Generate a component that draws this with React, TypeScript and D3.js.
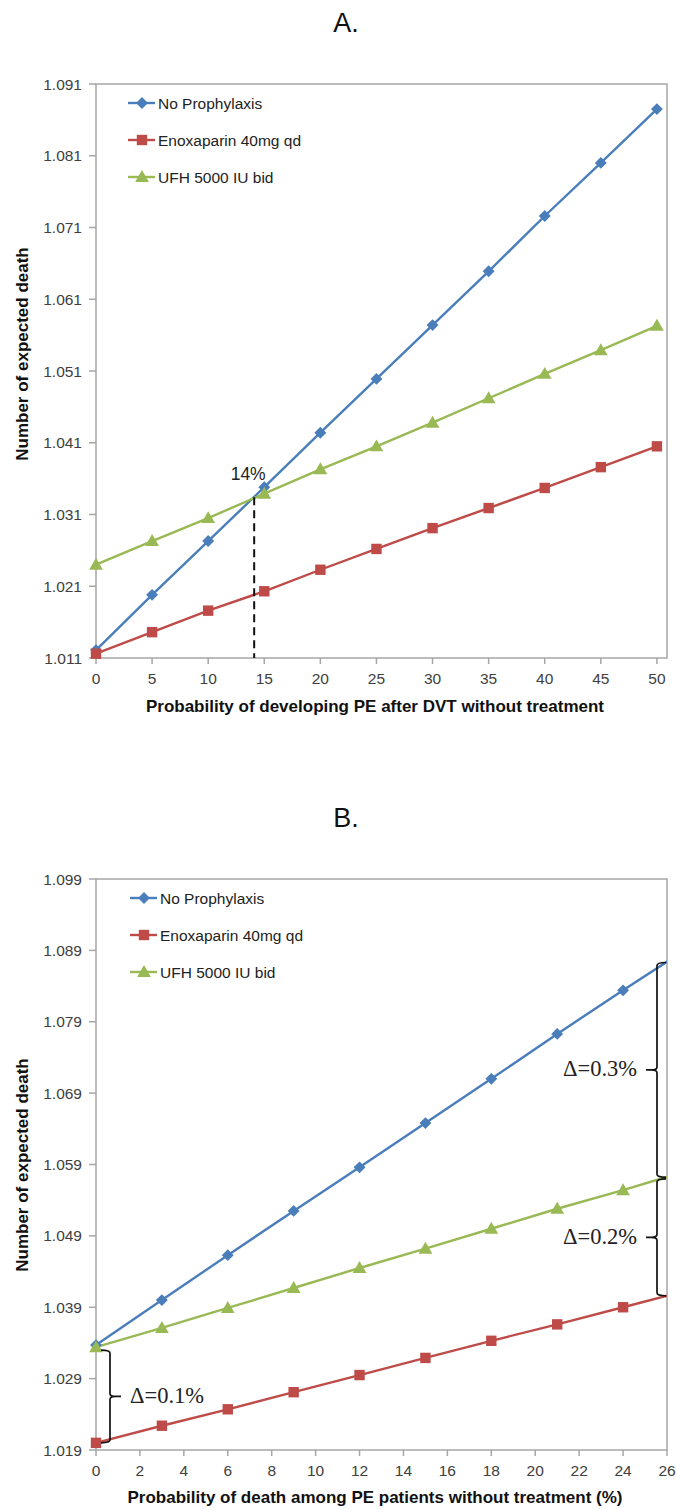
import React from 'react';
import * as d3 from 'd3';

// ---- data ----
const seriesNames = ['No Prophylaxis', 'Enoxaparin 40mg qd', 'UFH 5000 IU bid'];
const seriesColors = ['#4a7ebb', '#be4b48', '#98b954'];
const markerTypes = ['diamond', 'square', 'triangle'];

// panel A
const xA = [0, 5, 10, 15, 20, 25, 30, 35, 40, 45, 50];
const noProphA = [1.0121, 1.0198, 1.0273, 1.0348, 1.0424, 1.0499, 1.0574, 1.0649, 1.0726, 1.0800, 1.0875];
const enoxA = [1.0116, 1.0146, 1.0176, 1.0203, 1.0233, 1.0262, 1.0291, 1.0319, 1.0347, 1.0376, 1.0405];
const ufhA = [1.0240, 1.0273, 1.0305, 1.0339, 1.0373, 1.0405, 1.0438, 1.0472, 1.0506, 1.0539, 1.0573];
const xTicksA = [0, 5, 10, 15, 20, 25, 30, 35, 40, 45, 50];
const yTicksA = [1.011, 1.021, 1.031, 1.041, 1.051, 1.061, 1.071, 1.081, 1.091];
const crossA = { x: 14.1, y: 1.0334, label: '14%' };

// panel B
const xB = [0, 3, 6, 9, 12, 15, 18, 21, 24, 27];
const noProphB = [1.0337, 1.0400, 1.0463, 1.0525, 1.0586, 1.0648, 1.0710, 1.0773, 1.0834, 1.0894];
const enoxB = [1.0200, 1.0224, 1.0247, 1.0271, 1.0295, 1.0319, 1.0343, 1.0366, 1.0390, 1.0414];
const ufhB = [1.0334, 1.0361, 1.0389, 1.0417, 1.0445, 1.0472, 1.0500, 1.0528, 1.0554, 1.0582];
const xTicksB = [0, 2, 4, 6, 8, 10, 12, 14, 16, 18, 20, 22, 24, 26];
const yTicksB = [1.019, 1.029, 1.039, 1.049, 1.059, 1.069, 1.079, 1.089, 1.099];
const bracesB = [
  { x: 26, from: 1.0873, to: 1.0572, label: 'Δ=0.3%', side: 'right' },
  { x: 26, from: 1.0570, to: 1.0406, label: 'Δ=0.2%', side: 'right' },
  { x: 0, from: 1.0330, to: 1.0200, label: 'Δ=0.1%', side: 'left' },
];

const W = 676;
const H = 1509;
const FONT = 'Liberation Sans, Arial, sans-serif';
const SERIF = 'Liberation Serif, Times New Roman, serif';
const AXIS = '#a6a6a6';
const TXT = '#404040';

function Marker({ type, x, y, color }) {
  if (type === 'diamond') {
    return <rect x={x - 4.2} y={y - 4.2} width={8.4} height={8.4} fill={color} transform={`rotate(45 ${x} ${y})`} />;
  }
  if (type === 'square') {
    return <rect x={x - 5.2} y={y - 5.2} width={10.4} height={10.4} fill={color} />;
  }
  const p = d3.symbol().type(d3.symbolTriangle).size(82)();
  return <path d={p} transform={`translate(${x},${y + 1})`} fill={color} />;
}

function bracePath(x, y1, y2, side) {
  // side 'right': tips point right, nub points left
  const d = side === 'right' ? 1 : -1;
  const tip = 9 * d;
  const nub = -11 * d;
  const ym = (y1 + y2) / 2;
  return [
    `M${x + tip},${y1}`,
    `Q${x},${y1} ${x},${y1 + 3}`,
    `L${x},${ym - 3}`,
    `Q${x},${ym} ${x + nub * 0.5},${ym}`,
    `L${x + nub},${ym}`,
    `M${x + nub * 0.5},${ym}`,
    `Q${x},${ym} ${x},${ym + 3}`,
    `L${x},${y2 - 3}`,
    `Q${x},${y2} ${x + tip},${y2}`,
  ].join(' ');
}

function Panel({ top, bottom, title, xs, series, xDomain, yTicks, xTicks, xLabel, xLabelY, yLabelY, clipId, children, legendX }) {
  const left = 96;
  const right = 667;
  const x = d3.scaleLinear().domain(xDomain).range([left, right]);
  const y = d3.scaleLinear().domain([yTicks[0], yTicks[yTicks.length - 1]]).range([bottom, top]);
  const line = d3.line().x((d) => x(d[0])).y((d) => y(d[1]));
  return (
    <g>
      <text x={346} y={top - 52} textAnchor="middle" fontFamily={FONT} fontSize={27} fill="#111">{title}</text>
      <defs>
        <clipPath id={clipId}>
          <rect x={left - 9} y={top - 9} width={right - left + 9} height={bottom - top + 18} />
        </clipPath>
      </defs>
      {/* plot border */}
      <rect x={left} y={top} width={right - left} height={bottom - top} fill="none" stroke={AXIS} strokeWidth={1.5} />
      {/* y ticks */}
      {yTicks.map((t) => (
        <g key={t}>
          <line x1={left - 7} x2={left} y1={y(t)} y2={y(t)} stroke={AXIS} strokeWidth={1.5} />
          <text x={left - 14} y={y(t) + 5.5} textAnchor="end" fontFamily={FONT} fontSize={15.5} fill={TXT}>{t.toFixed(3)}</text>
        </g>
      ))}
      {/* x ticks */}
      {xTicks.map((t) => (
        <g key={t}>
          <line x1={x(t)} x2={x(t)} y1={bottom} y2={bottom + 6} stroke={AXIS} strokeWidth={1.5} />
          <text x={x(t)} y={bottom + 26} textAnchor="middle" fontFamily={FONT} fontSize={15.5} fill={TXT}>{t}</text>
        </g>
      ))}
      <text x={375} y={xLabelY} textAnchor="middle" fontFamily={FONT} fontSize={17} fontWeight="bold" fill="#111">{xLabel}</text>
      <text transform={`translate(28,${yLabelY}) rotate(-90)`} textAnchor="middle" fontFamily={FONT} fontSize={17} fontWeight="bold" fill="#111">
        Number of expected death
      </text>
      {/* series */}
      <g clipPath={`url(#${clipId})`}>
        {series.map((vals, i) => (
          <path key={i} d={line(xs.map((v, j) => [v, vals[j]]))} fill="none" stroke={seriesColors[i]} strokeWidth={2.4} />
        ))}
        {series.map((vals, i) =>
          xs.map((v, j) => <Marker key={`${i}-${j}`} type={markerTypes[i]} x={x(v)} y={y(vals[j])} color={seriesColors[i]} />)
        )}
      </g>
      {/* legend */}
      {seriesNames.map((n, i) => {
        const ly = top + 19 + i * 37;
        return (
          <g key={n}>
            <line x1={legendX} x2={legendX + 27} y1={ly} y2={ly} stroke={seriesColors[i]} strokeWidth={2.4} />
            <Marker type={markerTypes[i]} x={legendX + 14} y={ly} color={seriesColors[i]} />
            <text x={legendX + 30} y={ly + 5.5} fontFamily={FONT} fontSize={15.5} fill="#222">{n}</text>
          </g>
        );
      })}
      {children && children(x, y)}
    </g>
  );
}

export default function App() {
  return (
    <div style={{ position: 'absolute', left: 0, top: 0, background: '#fff' }}>
      <svg width={W} height={H} style={{ display: 'block' }}>
        <rect width={W} height={H} fill="#fff" />
        <Panel
          top={84}
          bottom={658}
          title="A."
          xs={xA}
          series={[noProphA, enoxA, ufhA]}
          xDomain={[0, 50.9]}
          yTicks={yTicksA}
          xTicks={xTicksA}
          xLabel="Probability of developing PE after DVT without treatment"
          xLabelY={712}
          yLabelY={354}
          clipId="clipA"
          legendX={128}
        >
          {(x, y) => (
            <g>
              <line x1={x(crossA.x)} x2={x(crossA.x)} y1={y(crossA.y)} y2={y(1.011)} stroke="#111" strokeWidth={2} strokeDasharray="8,5" />
              <text x={x(crossA.x) - 6} y={y(crossA.y) - 17} textAnchor="middle" fontFamily={FONT} fontSize={17.5} fill="#222">{crossA.label}</text>
            </g>
          )}
        </Panel>
        <Panel
          top={879}
          bottom={1450}
          title="B."
          xs={xB}
          series={[noProphB, enoxB, ufhB]}
          xDomain={[0, 26]}
          yTicks={yTicksB}
          xTicks={xTicksB}
          xLabel="Probability of death among PE patients without treatment (%)"
          xLabelY={1503}
          yLabelY={1165}
          clipId="clipB"
          legendX={130}
        >
          {(x, y) => (
            <g>
              {bracesB.map((b) => {
                const bx = b.side === 'right' ? x(b.x) - 10 : x(b.x) + 14;
                const ym = (y(b.from) + y(b.to)) / 2;
                return (
                  <g key={b.label}>
                    <path d={bracePath(bx, y(b.from), y(b.to), b.side)} fill="none" stroke="#111" strokeWidth={1.7} />
                    <text
                      x={b.side === 'right' ? bx - 20 : bx + 20}
                      y={ym + 6.5}
                      textAnchor={b.side === 'right' ? 'end' : 'start'}
                      fontFamily={SERIF}
                      fontSize={22.5}
                      fill="#222"
                    >
                      {b.label}
                    </text>
                  </g>
                );
              })}
            </g>
          )}
        </Panel>
      </svg>
    </div>
  );
}
